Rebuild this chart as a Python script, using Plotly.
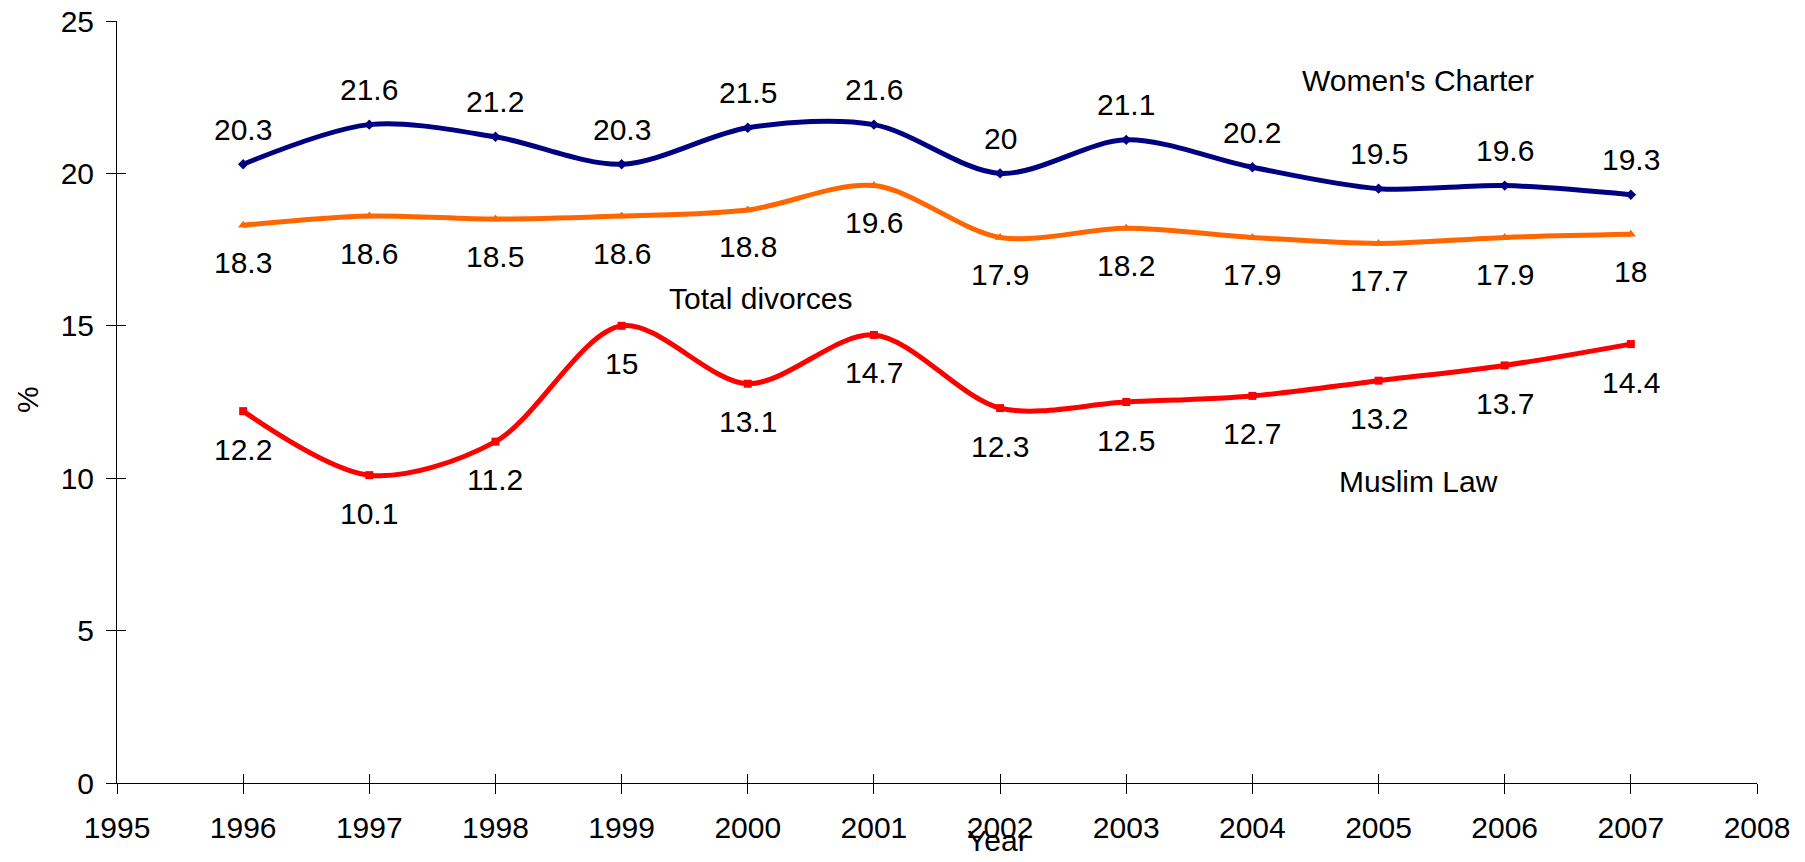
import plotly.graph_objects as go

years = [1996, 1997, 1998, 1999, 2000, 2001, 2002, 2003, 2004, 2005, 2006, 2007]
womens_charter = [20.3, 21.6, 21.2, 20.3, 21.5, 21.6, 20.0, 21.1, 20.2, 19.5, 19.6, 19.3]
total_divorces = [18.3, 18.6, 18.5, 18.6, 18.8, 19.6, 17.9, 18.2, 17.9, 17.7, 17.9, 18.0]
muslim_law = [12.2, 10.1, 11.2, 15.0, 13.1, 14.7, 12.3, 12.5, 12.7, 13.2, 13.7, 14.4]

x_ticks = list(range(1995, 2009))
y_ticks = [0, 5, 10, 15, 20, 25]

FONT = "Liberation Sans, Arial, sans-serif"
FS = 30

series = [
    ("Women's Charter", womens_charter, "#000080", "diamond", 8, 35),
    ("Total divorces", total_divorces, "#FF6600", "triangle-up", 9, -37),
    ("Muslim Law", muslim_law, "#FF0000", "square", 8, -38),
]

fig = go.Figure()
annotations = []
for name, vals, color, sym, msize, shift in series:
    fig.add_trace(go.Scatter(
        x=years, y=vals, mode="lines+markers", name=name,
        line=dict(color=color, width=5, shape="spline", smoothing=0.9),
        marker=dict(symbol=sym, size=msize, color=color),
        showlegend=False,
    ))
    for xv, yv in zip(years, vals):
        annotations.append(dict(
            x=xv, y=yv, xref="x", yref="y", text=f"{yv:g}", showarrow=False,
            yshift=shift, font=dict(family=FONT, size=FS, color="black"),
        ))

# figure sized to fit inside the page body (8px default body margin)
W, H = 1789, 846
L, R, T, B = 109, 40, 13, 71
PW, PH = W - L - R, H - T - B

def px_to_paper(px, py):
    return (px - L) / PW, (H - B - py) / PH

annotations += [
    dict(x=2005.31, y=23.06, xref="x", yref="y", text="Women's Charter", showarrow=False,
         font=dict(family=FONT, size=FS, color="black")),
    dict(x=2000.1, y=15.91, xref="x", yref="y", text="Total divorces", showarrow=False,
         font=dict(family=FONT, size=FS, color="black")),
    dict(x=2005.32, y=9.9, xref="x", yref="y", text="Muslim Law", showarrow=False,
         font=dict(family=FONT, size=FS, color="black")),
]
yx, yy = px_to_paper(989, 832)
annotations.append(dict(x=yx, y=yy, xref="paper", yref="paper", text="Year", showarrow=False,
                        xanchor="center", yanchor="middle",
                        font=dict(family=FONT, size=FS, color="black")))
px_, py_ = px_to_paper(19, 392)
annotations.append(dict(x=px_, y=py_, xref="paper", yref="paper", text="%", showarrow=False,
                        textangle=-90, xanchor="center", yanchor="middle",
                        font=dict(family=FONT, size=FS, color="black")))

# invisible trace for overlay axes (inside ticks to form crossing ticks)
fig.add_trace(go.Scatter(x=[1995], y=[0], xaxis="x2", yaxis="y2", mode="markers",
                         marker=dict(opacity=0), showlegend=False, hoverinfo="skip"))

axis_common = dict(showgrid=False, zeroline=False, showline=True, linecolor="black",
                   linewidth=1, tickcolor="black", ticklen=10, tickwidth=1, automargin=False,
                   ticklabeloverflow="allow",
                   tickfont=dict(family=FONT, size=FS, color="black"))

fig.update_layout(
    width=W, height=H,
    margin=dict(l=L, r=R, t=T, b=B, autoexpand=False),
    plot_bgcolor="white", paper_bgcolor="white",
    xaxis=dict(range=[1995, 2008], tickvals=x_ticks, ticks="outside",
               ticklabelstandoff=8, **axis_common),
    yaxis=dict(range=[0, 25], tickvals=y_ticks, ticks="outside",
               ticklabelstandoff=6, **axis_common),
    xaxis2=dict(range=[1995, 2008], tickvals=x_ticks, ticks="inside", showticklabels=False,
                overlaying="x", showgrid=False, zeroline=False, showline=False,
                tickcolor="black", ticklen=9, tickwidth=1, automargin=False),
    yaxis2=dict(range=[0, 25], tickvals=y_ticks, ticks="inside", showticklabels=False,
                overlaying="y", showgrid=False, zeroline=False, showline=False,
                tickcolor="black", ticklen=9, tickwidth=1, automargin=False),
    annotations=annotations,
)

fig.write_html("out.html")
